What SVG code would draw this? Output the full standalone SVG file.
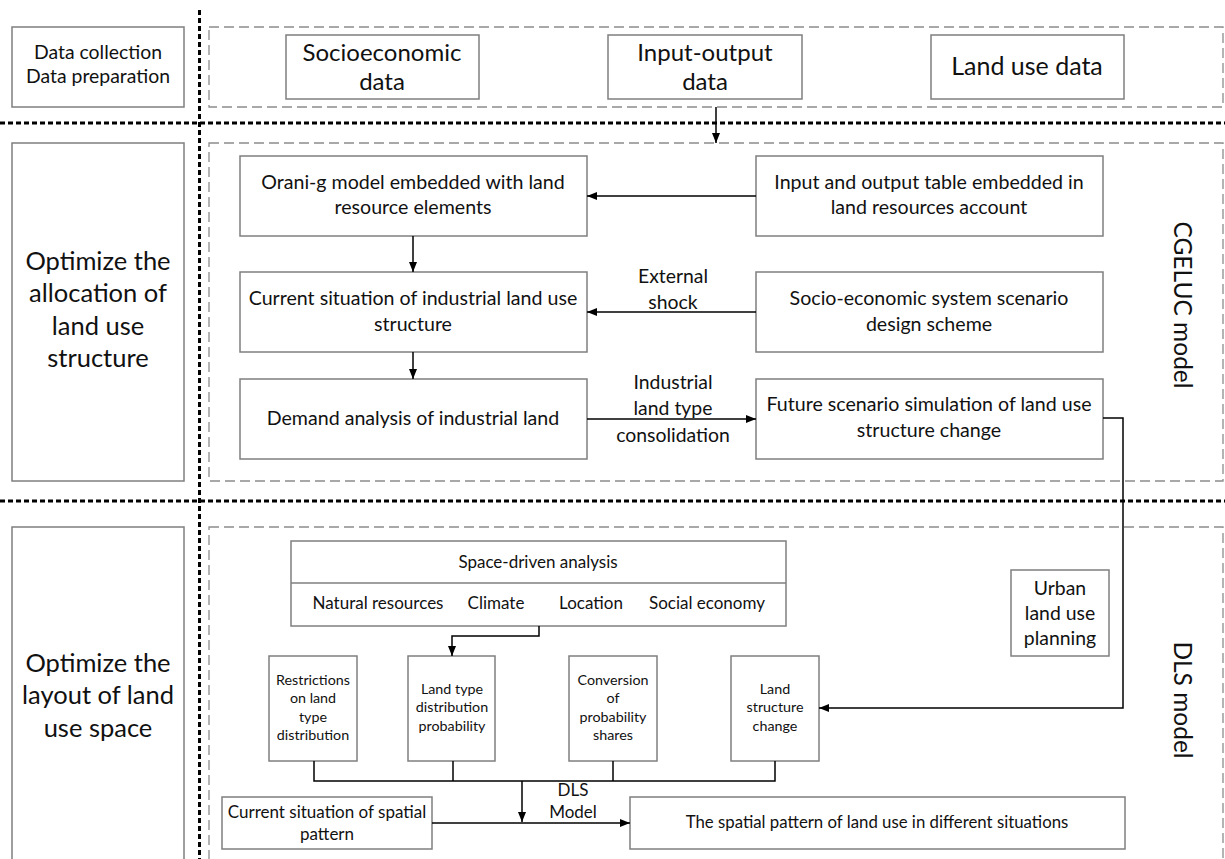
<svg xmlns="http://www.w3.org/2000/svg" width="1225" height="859" viewBox="0 0 1225 859">
<defs>
<style>
text{font-family:Lato,"Liberation Sans",sans-serif;fill:#111;text-anchor:middle}
.box{fill:#fff;stroke:#7f7f7f;stroke-width:1.5}
.dash{fill:none;stroke:#8c8c8c;stroke-width:1.3;stroke-dasharray:10 5}
.dot{fill:none;stroke:#000;stroke-width:3;stroke-dasharray:5 3}
.con{fill:none;stroke:#000;stroke-width:1.5}
.arr{marker-end:url(#ah)}
.t18{font-size:19.6px}
.tl{font-size:19.4px}
.t23{font-size:24px}
.t24{font-size:25px}
.t25{font-size:25.5px}
.t16{font-size:17px}
.t13{font-size:14.3px}
.t22{font-size:24.5px}
.t17{font-size:17px}
.t168{font-size:16.8px}
</style>
<marker id="ah" markerUnits="userSpaceOnUse" markerWidth="10" markerHeight="10" viewBox="0 0 10 10" refX="10" refY="5" orient="auto">
<path d="M0,1 L10,5 L0,9 Z" fill="#000"/>
</marker>
</defs>
<rect width="1225" height="859" fill="#fff"/>

<g id="frames">
<rect class="dash" x="209" y="27" width="1014" height="80"/>
<rect class="dash" x="209" y="143" width="1014" height="338"/>
<rect class="dash" x="209" y="527" width="1014" height="360"/>
<line class="dot" x1="199.5" y1="10" x2="199.5" y2="859"/>
<line class="dot" x1="0" y1="123" x2="1225" y2="123"/>
<line class="dot" x1="0" y1="501" x2="1225" y2="501"/>
<text class="t22" transform="translate(1174,305) rotate(90)">CGELUC model</text>
<text class="t22" transform="translate(1174,700) rotate(90)">DLS model</text>
</g>

<g id="stage1">
<rect class="box" x="12" y="27" width="172" height="80"/>
<text class="tl" x="98" y="59">Data collection</text>
<text class="tl" x="98" y="83">Data preparation</text>
</g>
<g id="stage2">
<rect class="box" x="12" y="143" width="172" height="338"/>
<text class="t25" x="98" y="270">Optimize the</text>
<text class="t25" x="98" y="302">allocation of</text>
<text class="t25" x="98" y="335">land use</text>
<text class="t25" x="98" y="367">structure</text>
</g>
<g id="stage3">
<rect class="box" x="12" y="527" width="172" height="360"/>
<text class="t25" x="98" y="672">Optimize the</text>
<text class="t25" x="98" y="704">layout of land</text>
<text class="t25" x="98" y="737">use space</text>
</g>

<g id="socioeconomic">
<rect class="box" x="286" y="35" width="193" height="64"/>
<text class="t23" x="382" y="61">Socioeconomic</text>
<text class="t23" x="382" y="90">data</text>
</g>
<g id="inputoutput">
<rect class="box" x="608" y="35" width="194" height="64"/>
<text class="t23" x="705" y="61">Input-output</text>
<text class="t23" x="705" y="90">data</text>
</g>
<g id="landusedata">
<rect class="box" x="931" y="35" width="193" height="64"/>
<text class="t24" x="1027" y="75">Land use data</text>
</g>

<g id="orani">
<rect class="box" x="240" y="156" width="347" height="80"/>
<text class="t18" x="413" y="189">Orani-g model embedded with land</text>
<text class="t18" x="413" y="214">resource elements</text>
</g>
<g id="current">
<rect class="box" x="240" y="272" width="347" height="80"/>
<text class="t18" x="413" y="305">Current situation of industrial land use</text>
<text class="t18" x="413" y="331">structure</text>
</g>
<g id="demand">
<rect class="box" x="240" y="379" width="347" height="80"/>
<text class="t18" x="413" y="425">Demand analysis of industrial land</text>
</g>
<g id="iotable">
<rect class="box" x="756" y="156" width="347" height="80"/>
<text class="t18" x="929" y="189">Input and output table embedded in</text>
<text class="t18" x="929" y="214">land resources account</text>
</g>
<g id="scenario">
<rect class="box" x="756" y="272" width="347" height="80"/>
<text class="t18" x="929" y="305">Socio-economic system scenario</text>
<text class="t18" x="929" y="331">design scheme</text>
</g>
<g id="future">
<rect class="box" x="756" y="379" width="347" height="80"/>
<text class="t18" x="929" y="411">Future scenario simulation of land use</text>
<text class="t18" x="929" y="437">structure change</text>
</g>

<g id="spacedriven">
<rect class="box" x="291" y="541" width="495" height="85"/>
<line class="box" x1="291" y1="583" x2="786" y2="583"/>
<text class="t16" x="538" y="568">Space-driven analysis</text>
<text class="t16" x="378" y="609">Natural resources</text>
<text class="t16" x="496" y="609">Climate</text>
<text class="t16" x="591" y="609">Location</text>
<text class="t16" x="707" y="609">Social economy</text>
</g>
<g id="restrictions">
<rect class="box" x="269" y="656" width="88" height="105"/>
<text class="t13" x="313" y="685">Restrictions</text>
<text class="t13" x="313" y="703">on land</text>
<text class="t13" x="313" y="722">type</text>
<text class="t13" x="313" y="740">distribution</text>
</g>
<g id="landtype">
<rect class="box" x="408" y="656" width="87" height="105"/>
<text class="t13" x="452" y="694">Land type</text>
<text class="t13" x="452" y="712">distribution</text>
<text class="t13" x="452" y="731">probability</text>
</g>
<g id="conversion">
<rect class="box" x="569" y="656" width="88" height="105"/>
<text class="t13" x="613" y="685">Conversion</text>
<text class="t13" x="613" y="703">of</text>
<text class="t13" x="613" y="722">probability</text>
<text class="t13" x="613" y="740">shares</text>
</g>
<g id="landstructure">
<rect class="box" x="731" y="656" width="88" height="105"/>
<text class="t13" x="775" y="694">Land</text>
<text class="t13" x="775" y="712">structure</text>
<text class="t13" x="775" y="731">change</text>
</g>
<g id="urban">
<rect class="box" x="1011" y="570" width="98" height="86"/>
<text class="tl" x="1060" y="595">Urban</text>
<text class="tl" x="1060" y="620">land use</text>
<text class="tl" x="1060" y="645">planning</text>
</g>
<g id="currentspatial">
<rect class="box" x="222" y="797" width="210" height="52"/>
<text class="t17" x="327" y="818">Current situation of spatial</text>
<text class="t17" x="327" y="840">pattern</text>
</g>
<g id="spatialpattern">
<rect class="box" x="630" y="797" width="495" height="52"/>
<text class="t168" x="877" y="828">The spatial pattern of land use in different situations</text>
</g>

<g id="connectors">
<line class="con arr" x1="716" y1="107" x2="716" y2="143"/>
<line class="con arr" x1="756" y1="196" x2="587" y2="196"/>
<line class="con arr" x1="756" y1="312" x2="587" y2="312"/>
<line class="con arr" x1="587" y1="419" x2="756" y2="419"/>
<line class="con arr" x1="413" y1="236" x2="413" y2="272"/>
<line class="con arr" x1="413" y1="352" x2="413" y2="379"/>
<polyline class="con arr" points="1103,418 1123,418 1123,708 819,708"/>
<polyline class="con arr" points="539,626 539,636 452,636 452,656"/>
<polyline class="con" points="314,761 314,781 775,781 775,761"/>
<line class="con" x1="453" y1="761" x2="453" y2="781"/>
<line class="con" x1="613" y1="761" x2="613" y2="781"/>
<line class="con arr" x1="522" y1="781" x2="522" y2="822"/>
<line class="con arr" x1="432" y1="823" x2="630" y2="823"/>
<text class="tl" x="673" y="283">External</text>
<text class="tl" x="673" y="309">shock</text>
<text class="tl" x="673" y="389">Industrial</text>
<text class="tl" x="673" y="415">land type</text>
<text class="tl" x="673" y="442">consolidation</text>
<text class="t17" x="573" y="796">DLS</text>
<text class="t17" x="573" y="818">Model</text>
</g>
</svg>
